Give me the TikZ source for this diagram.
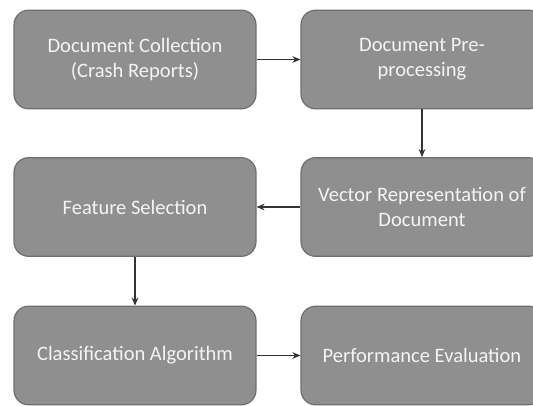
\documentclass[tikz,border=0pt]{standalone}
\usepackage{fontspec}
\setmainfont{Carlito}
\usetikzlibrary{arrows.meta}
\definecolor{boxfill}{HTML}{8F8F8F}
\definecolor{boxline}{HTML}{6E6E6E}
\definecolor{boxtext}{HTML}{F4F4F4}
\definecolor{arr}{HTML}{333333}
\begin{document}
\begin{tikzpicture}[x=0.75pt,y=-0.75pt,
  stepbox/.style={draw=boxline,line width=0.9pt,fill=boxfill,rounded corners=11pt,
    minimum width=181.5pt,minimum height=74pt,inner sep=0pt,
    text=boxtext,align=center,font=\fontsize{15.4}{18.5}\selectfont},
  flow/.style={draw=arr,line width=0.8pt,-{Stealth[length=6pt,width=5pt]}}]
\useasboundingbox (0,0) rectangle (533,406);
\begin{scope}
\clip (0,0) rectangle (533,406);
\node[stepbox] (a) at (135,59.5) {Document Collection\\(Crash Reports)};
\node[stepbox] (b) at (422,59.5) {Document Pre-\\processing};
\node[stepbox] (c) at (422,207) {Vector Representation of\\Document};
\node[stepbox] (d) at (135,207) {Feature Selection};
\node[stepbox] (e) at (135,355.5) {Classification Algorithm};
\node[stepbox] (f) at (422,355.5) {Performance Evaluation};
\end{scope}
\draw[flow] (a.east) -- (b.west);
\draw[flow] (b.south) -- (c.north);
\draw[flow] (c.west) -- (d.east);
\draw[flow] (d.south) -- (e.north);
\draw[flow] (e.east) -- (f.west);
\end{tikzpicture}
\end{document}
